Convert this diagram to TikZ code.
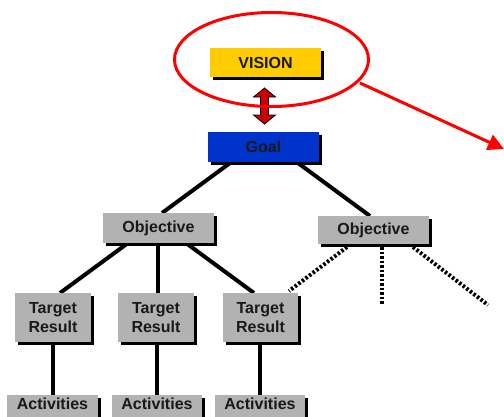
\documentclass[tikz,border=0pt]{standalone}
\usepackage{fontspec}
\setmainfont{Liberation Sans}
\usetikzlibrary{shadows,shapes.geometric,arrows.meta}
\definecolor{visiony}{HTML}{FFCC00}
\definecolor{goalb}{HTML}{0033CC}
\definecolor{boxg}{HTML}{B2B2B2}
\definecolor{redc}{HTML}{FF0000}
\definecolor{arrred}{HTML}{CC0000}
\tikzset{
  box/.style={rectangle, inner sep=0pt, font=\bfseries\fontsize{16}{19}\selectfont, text=black!90,
    drop shadow={shadow xshift=3pt, shadow yshift=-3pt, fill=black, opacity=1}},
  graybox/.style={box, fill=boxg},
  link/.style={line width=4pt},
  dotlink/.style={line width=4pt, dash pattern=on 2.5pt off 2pt},
}
\begin{document}
\begin{tikzpicture}[x=1pt,y=-1pt]
\useasboundingbox (0,0) rectangle (504,416);
\clip (0,0) rectangle (504,416);
% free ends
\coordinate (g1) at (230,163);
\coordinate (g2) at (298,163);
\coordinate (o1) at (162,213);
\coordinate (o2) at (370,216);
\coordinate (l1) at (128,243);
\coordinate (l2) at (158,243);
\coordinate (l3) at (186,243);
\coordinate (t1) at (60,293);
\coordinate (t2) at (158,293);
\coordinate (t3) at (254,293);
\coordinate (r1) at (347,247);
\coordinate (r2) at (382,247);
\coordinate (r3) at (413,247);
\coordinate (e1) at (289,291);
\coordinate (e2) at (382,304);
\coordinate (e3) at (488,305);
\coordinate (a1t) at (53,342);
\coordinate (a1b) at (53,395);
\coordinate (a2t) at (157,342);
\coordinate (a2b) at (157,395);
\coordinate (a3t) at (260,342);
\coordinate (a3b) at (260,395);
% connectors
\draw[link] (g1) -- (o1);
\draw[link] (g2) -- (o2);
\draw[link] (l1) -- (t1);
\draw[link] (l2) -- (t2);
\draw[link] (l3) -- (t3);
\draw[dotlink] (r1) -- (e1);
\draw[dotlink] (r2) -- (e2);
\draw[dotlink] (r3) -- (e3);
\draw[link] (a1t) -- (a1b);
\draw[link] (a2t) -- (a2b);
\draw[link] (a3t) -- (a3b);
% nodes
\node[box, fill=visiony, minimum width=111pt, minimum height=29pt] (vision) at (265.5,62.5) {VISION};
\node[box, fill=goalb, minimum width=111pt, minimum height=30pt] (goal) at (263.5,147) {Goal};
\node[graybox, minimum width=111pt, minimum height=30pt] (objl) at (158.5,228) {Objective};
\node[graybox, minimum width=111pt, minimum height=28pt] (objr) at (373.5,230) {Objective};
\node[graybox, minimum width=76pt, minimum height=49pt, align=center] (tr1) at (53,317.5) {Target\\Result};
\node[graybox, minimum width=76pt, minimum height=49pt, align=center] (tr2) at (156,317.5) {Target\\Result};
\node[graybox, minimum width=75pt, minimum height=49pt, align=center] (tr3) at (260.5,317.5) {Target\\Result};
\node[graybox, anchor=north, minimum width=91pt, minimum height=30pt] (act1) at (52.5,395) {\raisebox{6pt}[\height][\depth]{Activities}};
\node[graybox, anchor=north, minimum width=90pt, minimum height=30pt] (act2) at (157,395) {\raisebox{6pt}[\height][\depth]{Activities}};
\node[graybox, anchor=north, minimum width=90pt, minimum height=30pt] (act3) at (260,395) {\raisebox{6pt}[\height][\depth]{Activities}};
% double arrow
\coordinate (darr) at (264.5,106);
\filldraw[fill=arrred, draw=black, line width=0.8pt, line join=miter]
  (260.5,97) -- (253.5,97) -- (264.5,88) -- (275.5,97) -- (268.5,97)
  -- (268.5,115) -- (275.5,115) -- (264.5,124) -- (253.5,115) -- (260.5,115) -- cycle;
% ellipse and arrow
\node[draw=redc, line width=3pt, ellipse, minimum width=194pt, minimum height=94pt, inner sep=0pt] (ell) at (271.5,59.5) {};
\coordinate (tip) at (504,149);
\draw[redc, line width=3pt, -{Triangle[length=16pt,width=16pt]}] (360,83) -- (tip);
\end{tikzpicture}
\end{document}
